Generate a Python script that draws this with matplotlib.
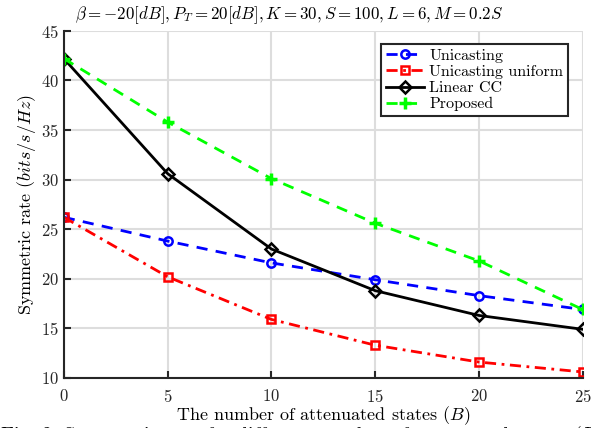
import numpy as np
import matplotlib
matplotlib.use('Agg')
import matplotlib.pyplot as plt

plt.rcParams['font.family'] = 'serif'
plt.rcParams['font.serif'] = ['cmr10']
plt.rcParams['mathtext.fontset'] = 'cm'
plt.rcParams['axes.formatter.use_mathtext'] = True

B = [0, 5, 10, 15, 20, 25]
unicasting = [26.2, 23.8, 21.6, 19.9, 18.3, 16.9]
unicasting_uniform = [26.2, 20.2, 15.9, 13.3, 11.6, 10.6]
linear_cc = [42.2, 30.6, 23.0, 18.8, 16.3, 14.9]
proposed = [42.2, 35.8, 30.1, 25.6, 21.8, 16.9]

fig = plt.figure(figsize=(5.91, 4.28), dpi=100)
ax = fig.add_axes([0.108, 0.117, 0.878, 0.811])

ax.plot(B, unicasting, color='b', linestyle=(0, (4, 3)), linewidth=2,
        marker='o', markersize=6, markerfacecolor='none', markeredgewidth=1.8,
        label='Unicasting')
ax.plot(B, unicasting_uniform, color='r', linestyle=(0, (4, 2, 1, 2)), linewidth=2,
        marker='s', markersize=6, markerfacecolor='none', markeredgewidth=1.8,
        label='Unicasting uniform')
ax.plot(B, linear_cc, color='k', linestyle='-', linewidth=2,
        marker='D', markersize=6, markerfacecolor='none', markeredgewidth=1.8,
        label='Linear CC')
ax.plot(B, proposed, color='#00ff00', linestyle=(0, (4, 3)), linewidth=2,
        marker='+', markersize=9, markeredgewidth=2.5,
        label='Proposed')

ax.set_xlim(0, 25)
ax.set_ylim(10, 45)
ax.set_xticks(B)
ax.set_yticks(np.arange(10, 46, 5))
ax.grid(True, color='#dddddd', linewidth=1.5)
ax.set_axisbelow(True)
for s in ['top', 'right']:
    ax.spines[s].set_visible(False)
for s in ['left', 'bottom']:
    ax.spines[s].set_linewidth(1.5)
    ax.spines[s].set_color('#262626')
ax.tick_params(direction='in', length=5, width=1.5, labelsize=12, colors='#262626')
ax.tick_params(axis='x', pad=7)

ax.set_xlabel('The number of attenuated states $(B)$', fontsize=13, labelpad=0)
ax.set_ylabel('Symmetric rate $(bits/s/Hz)$', fontsize=13, labelpad=2)

title = r'$\beta=-20[dB], P_T=20[dB], K=30, S=100, L=6, M=0.2S$'
fig.text(289 / 591, 1 - 4 / 428, title, fontsize=12.2, ha='center', va='top')

leg = ax.legend(loc='upper right', bbox_to_anchor=(0.987, 0.985), fontsize=11.5,
                fancybox=False, framealpha=1, edgecolor='#262626',
                handlelength=2.4, borderpad=0.3, labelspacing=0.12, handletextpad=0.3)
leg.get_frame().set_linewidth(1.5)

fig.text(0.0, 0.012, 'Fig. 2: Symmetric rate for different number of attenuated states ($B$',
         fontsize=14.5, va='top', ha='left')

fig.savefig('out.png', dpi=100)
